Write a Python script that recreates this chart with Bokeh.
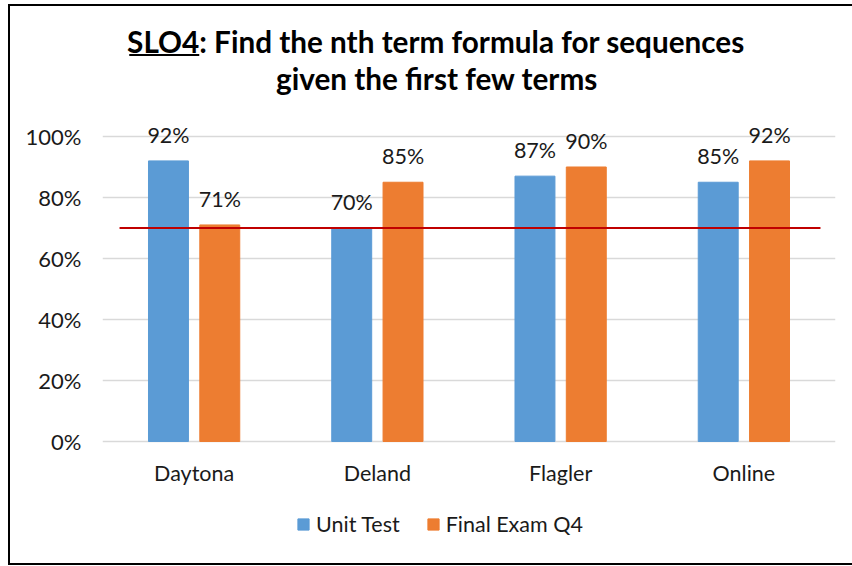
from bokeh.plotting import figure
from bokeh.models import FactorRange, Range1d, FixedTicker, Legend, LegendItem, ColumnDataSource
from bokeh.transform import dodge
from bokeh.core.properties import value
from bokeh.embed import file_html
from bokeh.resources import INLINE

campuses = ["Daytona", "Deland", "Flagler", "Online"]
unit_test = [0.92, 0.70, 0.87, 0.85]
final_exam = [0.71, 0.85, 0.90, 0.92]
y_ticks = [0.0, 0.2, 0.4, 0.6, 0.8, 1.0]
y_tick_labels = ["0%", "20%", "40%", "60%", "80%", "100%"]
threshold = 0.70
series_names = ["Unit Test", "Final Exam Q4"]
title_tag = "SLO4"
title_rest = ": Find the nth term formula for sequences"
title_line2 = "given the first few terms"

BLUE = "#5B9BD5"
ORANGE = "#ED7D31"
FONT = "Lato"
TXT = "#1a1a1a"
FS = "21.5px"

src = ColumnDataSource(dict(
    campus=campuses,
    unit=unit_test,
    final=final_exam,
    unit_lbl=[f"{round(v*100)}%" for v in unit_test],
    final_lbl=[f"{round(v*100)}%" for v in final_exam],
    zero=[0.0] * len(campuses),
))

p = figure(x_range=FactorRange(*campuses, range_padding=0),
           y_range=Range1d(-0.4, 1.4262),
           frame_width=733, frame_height=557,
           output_backend="svg", toolbar_location=None,
           min_border_left=92, min_border_right=17,
           min_border_top=0, min_border_bottom=0)
p.styles = {"margin-left": "8px", "margin-top": "4px",
            "border-left": "2px solid #000000",
            "border-top": "2px solid #000000",
            "border-bottom": "2px solid #000000"}
p.outline_line_color = None
p.background_fill_color = "white"
p.border_fill_color = "white"

# grid & axes
p.xgrid.visible = False
p.xaxis.visible = False
p.ygrid.ticker = FixedTicker(ticks=y_ticks)
p.ygrid.grid_line_color = "#D9D9D9"
p.ygrid.grid_line_width = 1.3

p.yaxis.ticker = FixedTicker(ticks=y_ticks)
p.yaxis.major_label_overrides = {t: l for t, l in zip(y_ticks, y_tick_labels)}
p.yaxis.axis_line_color = None
p.yaxis.major_tick_line_color = None
p.yaxis.minor_tick_line_color = None
p.yaxis.major_label_standoff = 15
p.yaxis.major_label_text_font = FONT
p.yaxis.major_label_text_font_size = "22px"
p.yaxis.major_label_text_color = TXT

# category labels under the baseline
p.text(x="campus", y="zero", text="campus", source=src, text_align="center",
       text_baseline="middle", y_offset=32, text_font=value(FONT),
       text_font_size=FS, text_color=TXT)

bw = 0.218
r1 = p.vbar(x=dodge("campus", -0.14, range=p.x_range), top="unit", width=bw,
            source=src, fill_color=BLUE, line_color=BLUE)
r2 = p.vbar(x=dodge("campus", 0.14, range=p.x_range), top="final", width=bw,
            source=src, fill_color=ORANGE, line_color=ORANGE)

for col, lbl, off in (("unit", "unit_lbl", -0.14), ("final", "final_lbl", 0.14)):
    p.text(x=dodge("campus", off, range=p.x_range), y=col, text=lbl, source=src,
           text_align="center", text_baseline="alphabetic", y_offset=-26,
           text_font=value(FONT), text_font_size=FS, text_color=TXT)

# threshold line
p.segment(x0=[0.093], x1=[3.918], y0=[threshold], y1=[threshold],
          line_color="#C00000", line_width=2)

# title
anchor = 0.528
TS = "29.7px"
p.text(x=[anchor], y=[1.3115], text=[title_tag], text_align="right",
       text_baseline="alphabetic", text_font=value(FONT), text_font_style="bold",
       text_font_size=TS, text_color="#000000")
p.text(x=[anchor], y=[1.3115], text=[title_rest], text_align="left",
       text_baseline="alphabetic", text_font=value(FONT), text_font_style="bold",
       text_font_size=TS, text_color="#000000")
p.text(x=[1.825], y=[1.190], text=[title_line2], text_align="center",
       text_baseline="alphabetic", text_font=value(FONT), text_font_style="bold",
       text_font_size=TS, text_color="#000000")
p.segment(x0=[0.146], x1=[anchor], y0=[1.2672], y1=[1.2672],
          line_color="#000000", line_width=2)

legend = Legend(items=[LegendItem(label=series_names[0], renderers=[r1]),
                       LegendItem(label=series_names[1], renderers=[r2])],
                orientation="horizontal", location=(194, 26),
                glyph_width=14, glyph_height=14, label_standoff=6, spacing=26,
                padding=0, margin=0, border_line_color=None,
                background_fill_alpha=0,
                label_text_font=FONT, label_text_font_size=FS,
                label_text_color=TXT)
p.add_layout(legend)

open("out.html", "w").write(file_html(p, INLINE))
